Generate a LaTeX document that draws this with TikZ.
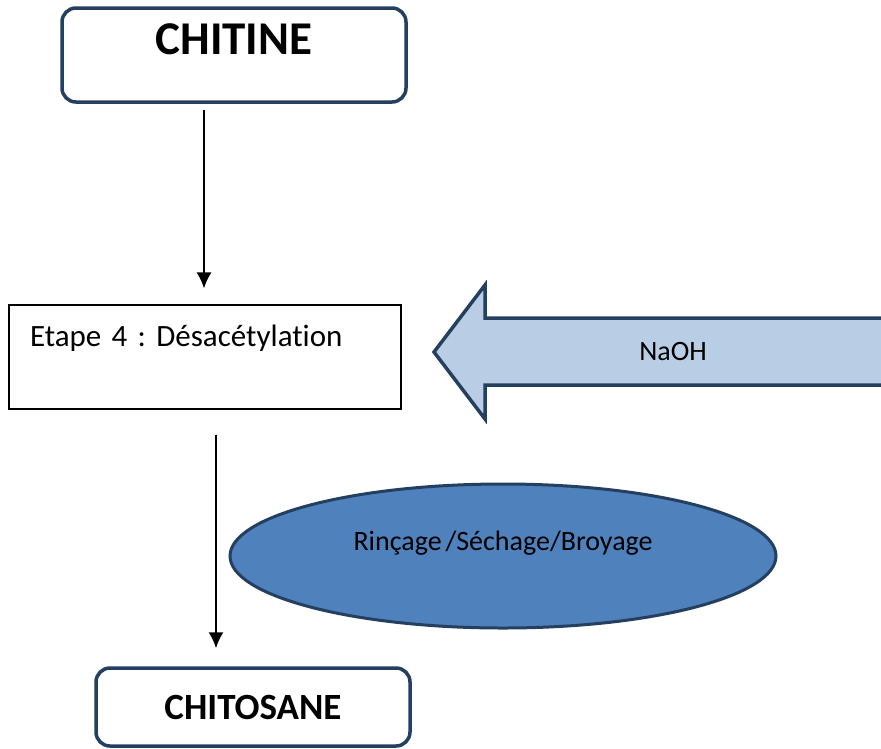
\documentclass[tikz,border=0pt]{standalone}
\usepackage{fontspec}
\setmainfont{Carlito}[Ligatures={NoCommon}]
\newfontfamily\tightfont{Carlito}[Ligatures={NoCommon},WordSpace=0.6]
\usetikzlibrary{shapes.geometric,arrows.meta}
\definecolor{dkblue}{HTML}{243F60}
\definecolor{ltblue}{HTML}{B9CDE5}
\definecolor{midblue}{HTML}{4F81BD}
\tikzset{
  roundbox/.style={draw=dkblue, line width=3.5pt, rounded corners=14pt, fill=white, inner sep=0pt, align=center},
  stepbox/.style={draw=black, line width=1.1pt, fill=white, inner sep=0pt, inner xsep=21pt, align=left},
  flow/.style={draw=black, line width=1.8pt, -{Latex[length=16pt,width=15pt]}},
  fatarrow/.style={draw=dkblue, line width=3.5pt, fill=ltblue, line join=miter},
  blob/.style={ellipse, draw=dkblue, line width=3pt, fill=midblue, inner sep=0pt}
}
\begin{document}
\frenchspacing
\begin{tikzpicture}[x=1pt,y=-1pt]
\useasboundingbox (0,0) rectangle (881,748);
% top box
\node[roundbox, text width=344pt, text height=46.5pt, text depth=47.5pt, font=\fontsize{47}{50}\selectfont\bfseries] (chitine) at (234,55) {CHITINE};
% step box
\node[stepbox, text width=350pt, text height=41pt, text depth=63pt, font=\tightfont\fontsize{31}{34}\selectfont\frenchspacing] (etape) at (205,357) {Etape 4 : Désacétylation};
% NaOH arrow
\draw[fatarrow] (434,352) -- (485,285) -- (485,318) -- (895,318) -- (895,385) -- (485,385) -- (485,419) -- cycle;
\node[font=\fontsize{28}{30}\selectfont, inner sep=0pt] (naoh) at (673,352) {NaOH};
% ellipse
\node[blob, minimum width=546pt, minimum height=144pt, text height=20pt, text depth=32pt, font=\tightfont\fontsize{28}{30}\selectfont] (rinc) at (503,556) {Rinçage /Séchage/Broyage};
% bottom box
\node[roundbox, minimum width=314pt, minimum height=78pt, font=\fontsize{37}{40}\selectfont\bfseries] (chitosane) at (253,707) {CHITOSANE};
% connectors
\draw[flow] ([xshift=-30pt,yshift=-6pt]chitine.south) -- ([xshift=-1pt,yshift=16pt]etape.north);
\draw[flow] ([xshift=11pt,yshift=-25pt]etape.south) -- ([xshift=-37pt,yshift=18pt]chitosane.north);
\end{tikzpicture}
\end{document}
